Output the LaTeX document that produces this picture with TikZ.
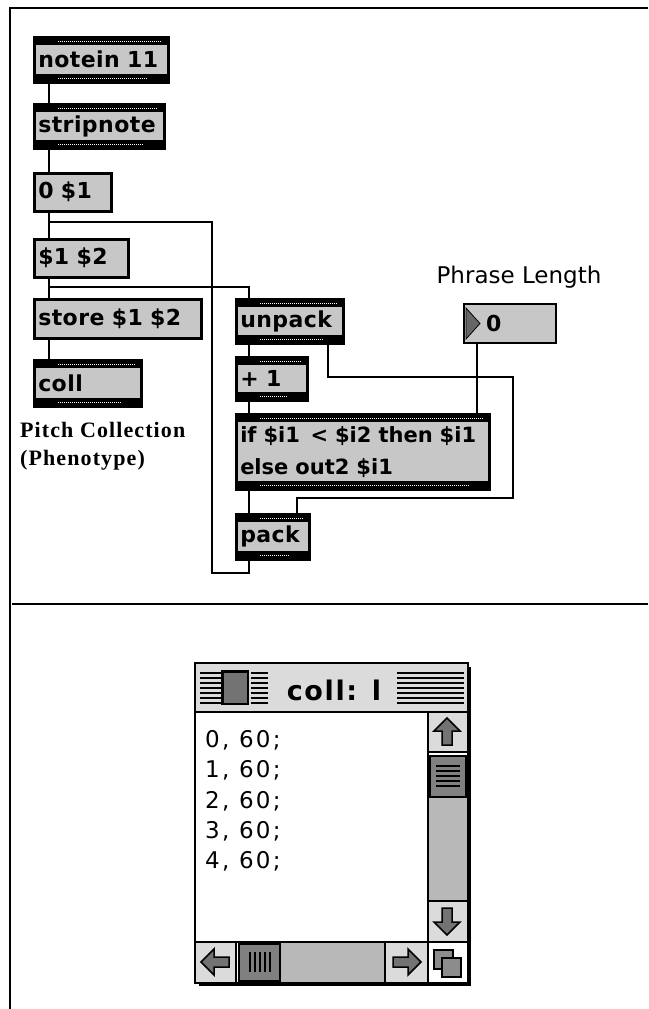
\documentclass[tikz,border=0pt]{standalone}
\usepackage{fontspec}
\setmainfont{DejaVu Sans}
\newfontfamily\maxfont{DejaVu Sans}[LetterSpace=2]
\newfontfamily\iffont{DejaVu Sans}
\newfontfamily\serifb{Liberation Serif}[LetterSpace=5]
\newfontfamily\geneva{DejaVu Sans}[LetterSpace=10]
\newfontfamily\chicago{DejaVu Sans}[LetterSpace=6]
\definecolor{boxgray}{gray}{0.78}
\definecolor{wingray}{gray}{0.86}
\def\boxf{\maxfont\bfseries\fontsize{22}{32}\selectfont}
\def\ifboxf{\iffont\bfseries\fontsize{21}{32}\selectfont}
\tikzset{
  maxobj/.style={draw=black, line width=2.5pt, fill=boxgray, anchor=north west,
    inner xsep=4pt, inner ysep=0pt, align=left, font=\boxf,
    path picture={
      \fill[black] (path picture bounding box.north west) rectangle ([yshift=-8pt]path picture bounding box.north east);
      \fill[black] (path picture bounding box.south west) rectangle ([yshift=8pt]path picture bounding box.south east);
      \draw[white, line width=0.8pt, dash pattern=on 1pt off 1pt]
        ([xshift=24pt,yshift=-4pt]path picture bounding box.north west) -- ([xshift=-6pt,yshift=-4pt]path picture bounding box.north east);
      \draw[white, line width=0.8pt, dash pattern=on 1pt off 1pt]
        ([xshift=24pt,yshift=4pt]path picture bounding box.south west) -- ([xshift=-20pt,yshift=4pt]path picture bounding box.south east);
    }},
  maxmsg/.style={draw=black, line width=2.5pt, fill=boxgray, anchor=north west,
    inner xsep=4pt, inner ysep=0pt, align=left, font=\boxf},
  wire/.style={line width=2pt, black},
  framel/.style={line width=2.5pt, black},
  winline/.style={line width=2pt, black},
  stripe/.style={line width=1.3pt, black},
  arrowshape/.style={fill=black!55, draw=black, line width=1.5pt, line join=miter},
  wintext/.style={anchor=base west, font=\geneva\fontsize{23}{30}\selectfont, inner sep=0pt},
}
\begin{document}
\begin{tikzpicture}[x=1pt,y=-1pt]
\useasboundingbox (0,0) rectangle (648,1009);
% frame
\draw[framel] (10,1009) -- (10,8) -- (648,8);
\draw[framel] (12,604) -- (648,604);

% left column
\node[maxobj, minimum width=134pt, text width=126pt, minimum height=45pt] (notein) at (33,36) {notein 11};
\node[maxobj, minimum width=130pt, text width=122pt, minimum height=44pt] (stripnote) at (33,103) {stripnote};
\node[maxmsg, minimum width=77pt, text width=69pt, minimum height=38pt] (zero) at (33,172) {0 \$1};
\node[maxmsg, minimum width=94pt, text width=86pt, minimum height=38pt] (dollar) at (33,238) {\$1 \$2};
\node[maxmsg, minimum width=167pt, text width=159pt, minimum height=39pt] (store) at (33,298) {store \$1 \$2};
\node[maxobj, minimum width=107pt, text width=99pt, minimum height=46pt] (coll) at (33,359) {coll};
\node[anchor=base west, inner sep=0pt, font=\serifb\bfseries\fontsize{22}{28}\selectfont] (pitch) at (20,437) {Pitch Collection};
\node[anchor=base west, inner sep=0pt, font=\serifb\bfseries\fontsize{22}{28}\selectfont] (pheno) at (20,465) {(Phenotype)};

% right column
\node[maxobj, minimum width=107pt, text width=99pt, minimum height=44pt] (unpack) at (235,298) {unpack};
\node[maxobj, minimum width=71pt, text width=63pt, minimum height=43pt] (plus) at (235,356) {+ 1};
\node[maxobj, font=\ifboxf, minimum width=253pt, text width=245pt, minimum height=75pt] (ifbox) at (235,413) {if \$i1 \,< \$i2 then \$i1\\else out2 \$i1};
\node[maxobj, minimum width=73pt, text width=65pt, minimum height=45pt] (pack) at (235,513) {pack};
\node[anchor=center, inner sep=0pt, font=\iffont\fontsize{23}{28}\selectfont] (plabel) at (519,277) {Phrase Length};
\node[maxmsg, line width=2pt, minimum width=92pt, text width=84pt, minimum height=39pt] (numbox) at (463,303) {\hspace*{18pt}0};
\fill[black!60, draw=black, line width=0.8pt] ([xshift=3pt,yshift=-5pt]numbox.north west) -- ([xshift=17pt]numbox.west) -- ([xshift=3pt,yshift=5pt]numbox.south west) -- cycle;

% wires
\draw[wire] ([xshift=16pt]notein.south west) -- ([xshift=16pt]stripnote.north west);
\draw[wire] ([xshift=16pt]stripnote.south west) -- ([xshift=16pt]zero.north west);
\draw[wire] ([xshift=16pt]zero.south west) -- ([xshift=16pt]dollar.north west);
\draw[wire] ([xshift=16pt]dollar.south west) -- ([xshift=16pt]store.north west);
\draw[wire] ([xshift=16pt]store.south west) -- ([xshift=16pt]coll.north west);
\coordinate (fbA) at (212,573);
\coordinate (fbB) at (49,222);
\draw[wire] ([xshift=14pt]pack.south west) |- (fbA) |- (fbB);
\coordinate (brB) at (49,287);
\draw[wire] (brB) -| ([xshift=14pt]unpack.north west);
\draw[wire] ([xshift=14pt]unpack.south west) -- ([xshift=14pt]plus.north west);
\draw[wire] ([xshift=14pt]plus.south west) -- ([xshift=14pt]ifbox.north west);
\draw[wire] ([xshift=14pt]ifbox.south west) -- ([xshift=14pt]pack.north west);
\coordinate (rl1) at (513,377);
\coordinate (rl2) at (297,498);
\draw[wire] ([xshift=93pt]unpack.south west) |- (rl1) |- (rl2) -- ([xshift=62pt]pack.north west);
\draw[wire] ([xshift=14pt]numbox.south west) -- ([xshift=242pt]ifbox.north west);

% coll window
\fill[black] (199,667) rectangle (471,986);
\fill[white] (195,663) rectangle (468,983);
\fill[wingray] (195,663) rectangle (468,712);
\foreach \yy in {673,678,683,688,693,698,703} {
  \draw[stripe] (200,\yy) -- (221,\yy);
  \draw[stripe] (251,\yy) -- (268,\yy);
  \draw[stripe] (397,\yy) -- (464,\yy);
}
\fill[black!55, draw=black, line width=1.2pt] (222,671) rectangle (248,704);
\draw[black, line width=2.5pt] (223,703) -- (223,672) -- (248,672);
\node[anchor=center, inner sep=0pt, font=\chicago\bfseries\fontsize{27}{30}\selectfont] (title) at (334,690) {coll: l};
% scroll bars
\fill[wingray] (428,712) rectangle (468,752);
\fill[black!50, draw=black, line width=1.5pt] (430,756) rectangle (466,797);
\foreach \yy in {766,771,776,781,786} { \draw[stripe] (436,\yy) -- (460,\yy); }
\fill[black!28] (429,798) rectangle (467,901);
\fill[wingray] (428,901) rectangle (468,942);
\fill[wingray] (195,942) rectangle (236,982);
\fill[black!50, draw=black, line width=1.5pt] (239,944) rectangle (280,981);
\foreach \xx in {250,255,260,265,270} { \draw[stripe] (\xx,952) -- (\xx,972); }
\fill[black!28] (281,943) rectangle (385,982);
\fill[wingray] (385,942) rectangle (427,982);
\draw[winline] (428,712) -- (428,982);
\draw[winline] (195,942) -- (468,942);
\draw[winline] (428,752) -- (468,752);
\draw[winline] (428,901) -- (468,901);
\draw[winline] (236,942) -- (236,982);
\draw[winline] (385,942) -- (385,982);
\draw[winline] (195,712) -- (468,712);
% arrows
\draw[arrowshape] (447,718) -- (460,731) -- (452,731) -- (452,745) -- (442,745) -- (442,731) -- (434,731) -- cycle;
\draw[arrowshape] (447,935) -- (460,922) -- (452,922) -- (452,908) -- (442,908) -- (442,922) -- (434,922) -- cycle;
\draw[arrowshape] (201,962) -- (214,949) -- (214,957) -- (229,957) -- (229,967) -- (214,967) -- (214,975) -- cycle;
\draw[arrowshape] (421,962) -- (408,949) -- (408,957) -- (393,957) -- (393,967) -- (408,967) -- (408,975) -- cycle;
\fill[black!45, draw=black, line width=1.5pt] (434,950) rectangle (453,969);
\fill[black!45, draw=black, line width=1.5pt] (442,958) rectangle (461,977);
\draw[line width=2.5pt, black] (195,663) rectangle (468,983);
% text
\node[wintext] (l0) at (205,747) {0, 60;};
\node[wintext] (l1) at (205,777) {1, 60;};
\node[wintext] (l2) at (205,808) {2, 60;};
\node[wintext] (l3) at (205,838) {3, 60;};
\node[wintext] (l4) at (205,868) {4, 60;};
\end{tikzpicture}
\end{document}
